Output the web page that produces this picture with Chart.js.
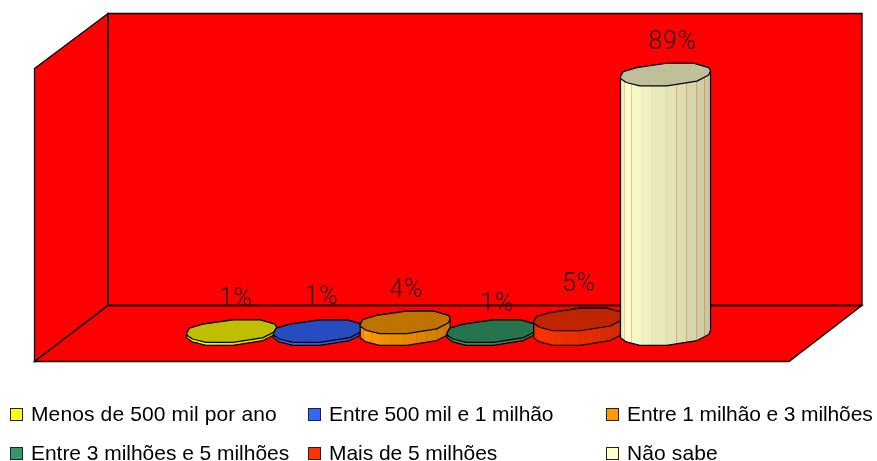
<!DOCTYPE html>
<html>
<head>
<meta charset="utf-8">
<script src="https://cdn.jsdelivr.net/npm/chart.js@4"></script>
<style>
  html, body { margin: 0; padding: 0; background: #fff; overflow: hidden; }
  #wrap { position: relative; width: 877px; height: 461px; overflow: hidden; }
  #chart { position: absolute; left: 0; top: 0; }
  .item { position: absolute; font: 21px "Liberation Sans", Arial, sans-serif; color: #000; white-space: nowrap; line-height: 24px; }
  .box { position: absolute; width: 11px; height: 11px; border: 1px solid #222; }
</style>
</head>
<body>
<div id="wrap">
  <canvas id="chart" width="877" height="461"></canvas>
  <div id="legend"></div>
</div>
<script>
const categories = ['Menos de 500 mil por ano', 'Entre 500 mil e 1 milhão', 'Entre 1 milhão e 3 milhões', 'Entre 3 milhões e 5 milhões', 'Mais de 5 milhões', 'Não sabe'];
const values = [1, 1, 4, 1, 5, 89];
const colors = ['#FFFF00', '#3366FF', '#FF9900', '#339966', '#FF3300', '#FFFFCC'];

// the labels were moved by hand in the original, so they don't sit on one line
const labelNudge = [[4, -31], [3, -33], [1, -32], [5, -26], [0, -35], [7, -32]];

// outline of the slanted cylinder end, in units of its half width / half height
const outline = [[-1, .2], [-.94, -.25], [-.64, -.61], [.03, -1], [.62, -1], [.81, -.79], [.96, -.61], [1, -.34],
  [.96, .04], [.7, .58], [.03, 1], [-.57, 1], [-.87, .7], [-1, .34]];
// side facets: left edge (fraction of width), brightness
const facets = [[0, .92], [.035, 1], [.115, .97], [.225, .945], [.335, .915], [.49, .89], [.62, .865], [.73, .84], [.84, .815], [.93, .785]];
const seams = [.035, .115, .62, .73, .84, .93];

function shade(hex, k) {
  const n = parseInt(hex.slice(1), 16);
  return `rgb(${Math.round((n >> 16) * k)},${Math.round(((n >> 8) & 255) * k)},${Math.round((n & 255) * k)})`;
}

const wallsPlugin = {
  id: 'walls',
  beforeDatasetsDraw(chart) {
    const ctx = chart.ctx;
    const walls = [
      [[34.5, 68.5], [108, 13.5], [108, 305.5], [34.5, 361.5]],
      [[108, 13.5], [862, 13.5], [862, 305.5], [108, 305.5]],
      [[34.5, 361.5], [108, 305.5], [862, 305.5], [789, 361.5]]
    ];
    const trace = (pts) => {
      ctx.beginPath();
      pts.forEach((p, i) => i ? ctx.lineTo(p[0], p[1]) : ctx.moveTo(p[0], p[1]));
      ctx.closePath();
    };
    ctx.save();
    ctx.fillStyle = '#FF0000';
    ctx.strokeStyle = '#000';
    ctx.lineWidth = 1.3;
    walls.forEach((w) => { trace(w); ctx.fill(); });
    walls.forEach((w) => { trace(w); ctx.stroke(); });
    ctx.restore();
  }
};

const cylinderPlugin = {
  id: 'cylinders',
  afterDatasetsDraw(chart) {
    const ctx = chart.ctx;
    values.forEach((v, i) => {
      const bar = chart.getDatasetMeta(i).data[0];
      const rx = bar.width * 0.519, ry = 11.3;
      const px = (p) => bar.x + p[0] * rx;
      const topY = (p) => bar.y + p[1] * ry;
      const baseY = (p) => bar.base + p[1] * ry;

      ctx.save();
      ctx.lineJoin = 'round';
      ctx.strokeStyle = '#000';
      ctx.lineWidth = 1.2;

      // side
      ctx.beginPath();
      ctx.moveTo(px(outline[0]), topY(outline[0]));
      ctx.lineTo(px(outline[0]), baseY(outline[0]));
      for (let k = 13; k >= 7; k--) ctx.lineTo(px(outline[k]), baseY(outline[k]));
      ctx.lineTo(px(outline[7]), topY(outline[7]));
      for (let k = 6; k >= 1; k--) ctx.lineTo(px(outline[k]), topY(outline[k]));
      ctx.closePath();
      ctx.save();
      ctx.clip();
      const left = bar.x - rx;
      const yTop = bar.y - ry - 1, h = bar.base - bar.y + 2 * ry + 2;
      facets.forEach((f, n) => {
        const x0 = left + f[0] * 2 * rx;
        const x1 = n + 1 < facets.length ? left + facets[n + 1][0] * 2 * rx : bar.x + rx;
        ctx.fillStyle = shade(colors[i], f[1]);
        ctx.fillRect(x0, yTop, x1 - x0 + 0.5, h);
      });
      ctx.fillStyle = 'rgba(255,60,40,0.3)';
      seams.forEach((s) => ctx.fillRect(Math.round(left + s * 2 * rx), yTop, 1, h));
      ctx.restore();
      ctx.stroke();

      // top
      ctx.beginPath();
      outline.forEach((p, k) => k ? ctx.lineTo(px(p), topY(p)) : ctx.moveTo(px(p), topY(p)));
      ctx.closePath();
      ctx.fillStyle = shade(colors[i], 0.75);
      ctx.fill();
      ctx.stroke();
      ctx.restore();
    });

    // value labels
    ctx.save();
    ctx.font = '300 25px Roboto, "Liberation Sans", sans-serif';
    ctx.letterSpacing = '0.6px';
    ctx.fillStyle = '#200000';
    ctx.textAlign = 'center';
    ctx.textBaseline = 'middle';
    values.forEach((v, i) => {
      const bar = chart.getDatasetMeta(i).data[0];
      ctx.fillText(v + '%', bar.x + labelNudge[i][0], bar.y + labelNudge[i][1]);
    });
    ctx.restore();
  }
};

new Chart(document.getElementById('chart').getContext('2d'), {
  type: 'bar',
  data: {
    labels: [''],
    datasets: categories.map((name, i) => ({
      label: name,
      data: [values[i]],
      backgroundColor: 'rgba(0,0,0,0)'
    }))
  },
  options: {
    responsive: false,
    animation: false,
    layout: { padding: { left: 188.3, right: 168.1, top: 42.5, bottom: 127 } },
    datasets: { bar: { categoryPercentage: 1, barPercentage: 1 } },
    scales: {
      x: { display: false },
      y: { display: false, min: 0, max: 100 }
    },
    plugins: { legend: { display: false }, tooltip: { enabled: false } }
  },
  plugins: [wallsPlugin, cylinderPlugin]
});

// legend, three columns on two rows; text is stretched a hair to the widths in the picture
const legendCols = [10, 308, 606];
const legendRows = [402, 441];
const legendWidths = [246, 224, 246, 258, 168, 91];
const legendDom = document.getElementById('legend');
categories.forEach((name, i) => {
  const col = legendCols[i % 3], row = legendRows[Math.floor(i / 3)];
  const box = document.createElement('div');
  box.className = 'box';
  box.style.left = col + 'px';
  box.style.top = (row + 6) + 'px';
  box.style.background = colors[i];
  const item = document.createElement('div');
  item.className = 'item';
  item.style.left = (col + 21) + 'px';
  item.style.top = row + 'px';
  item.textContent = name;
  legendDom.appendChild(box);
  legendDom.appendChild(item);
  item.style.letterSpacing = ((legendWidths[i] - item.offsetWidth) / name.length) + 'px';
});
</script>
</body>
</html>
